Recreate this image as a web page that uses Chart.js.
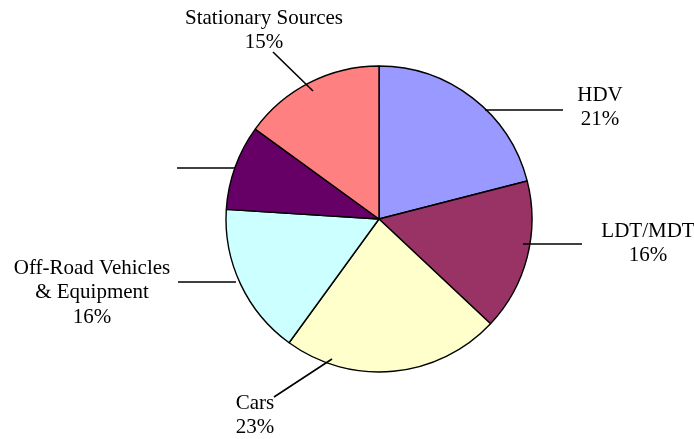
<!DOCTYPE html>
<html>
<head>
<meta charset="utf-8">
<script src="https://cdn.jsdelivr.net/npm/chart.js@4"></script>
<style>
  body { margin: 0; background: #fff; }
  #wrap { width: 694px; height: 439px; }
</style>
</head>
<body>
<div id="wrap"><canvas id="pieChart" width="694" height="439"></canvas></div>
<script>
// Emission share by source category
const categories = [
    ['HDV'],
    ['LDT/MDT'],
    ['Cars'],
    ['Off-Road Vehicles', '& Equipment'],
    [],
    ['Stationary Sources']
];
const shares = [21, 16, 23, 16, 9, 15];
const showValue = [true, true, true, true, false, true];
const sliceColors = ['#9999FF', '#993366', '#FFFFCC', '#CCFFFF', '#660066', '#FF8080'];

// leader lines and label placement, in pixels from the pie centre (radius 153)
const labelLayout = [
    { from: [106, -109], to: [184, -109], text: [221, -124] },
    { from: [144, 25], to: [203, 25], text: [269, 12] },
    { from: [-47, 140], to: [-105, 178], text: [-124, 184] },
    { from: [-143, 63], to: [-201, 63], text: [-287, 49] },
    { from: [-144, -51], to: [-202, -51], text: null },
    { from: [-66, -128], to: [-106, -167], text: [-115, -201] }
];

const leaderLabels = {
    id: 'leaderLabels',
    afterDatasetsDraw(chart) {
        const ctx = chart.ctx;
        const meta = chart.getDatasetMeta(0);
        const values = chart.data.datasets[0].data;
        ctx.save();
        ctx.strokeStyle = '#000';
        ctx.lineWidth = 1.6;
        ctx.fillStyle = '#000';
        ctx.font = '21px "Liberation Serif", "Times New Roman", serif';
        ctx.textAlign = 'center';
        ctx.textBaseline = 'middle';
        meta.data.forEach((arc, i) => {
            const k = arc.outerRadius / 153;
            const lay = labelLayout[i];
            ctx.beginPath();
            ctx.moveTo(arc.x + lay.from[0] * k, arc.y + lay.from[1] * k);
            ctx.lineTo(arc.x + lay.to[0] * k, arc.y + lay.to[1] * k);
            ctx.stroke();
            if (!lay.text) return;
            const lines = categories[i].slice();
            if (showValue[i]) lines.push(values[i] + '%');
            lines.forEach((t, j) => {
                ctx.fillText(t, arc.x + lay.text[0] * k, arc.y + lay.text[1] * k + j * 24.5);
            });
        });
        ctx.restore();
    }
};

const ctx = document.getElementById('pieChart').getContext('2d');
const pieChart = new Chart(ctx, {
    type: 'pie',
    data: {
        labels: categories.map(c => c.join(' ')),
        datasets: [{
            data: shares,
            backgroundColor: sliceColors,
            borderColor: '#000',
            borderWidth: 1.4
        }]
    },
    options: {
        responsive: false,
        animation: false,
        radius: 153,
        layout: {
            padding: { left: 226, right: 162, top: 66, bottom: 67 }
        },
        plugins: {
            legend: { display: false },
            tooltip: { enabled: false }
        }
    },
    plugins: [leaderLabels]
});
</script>
</body>
</html>
